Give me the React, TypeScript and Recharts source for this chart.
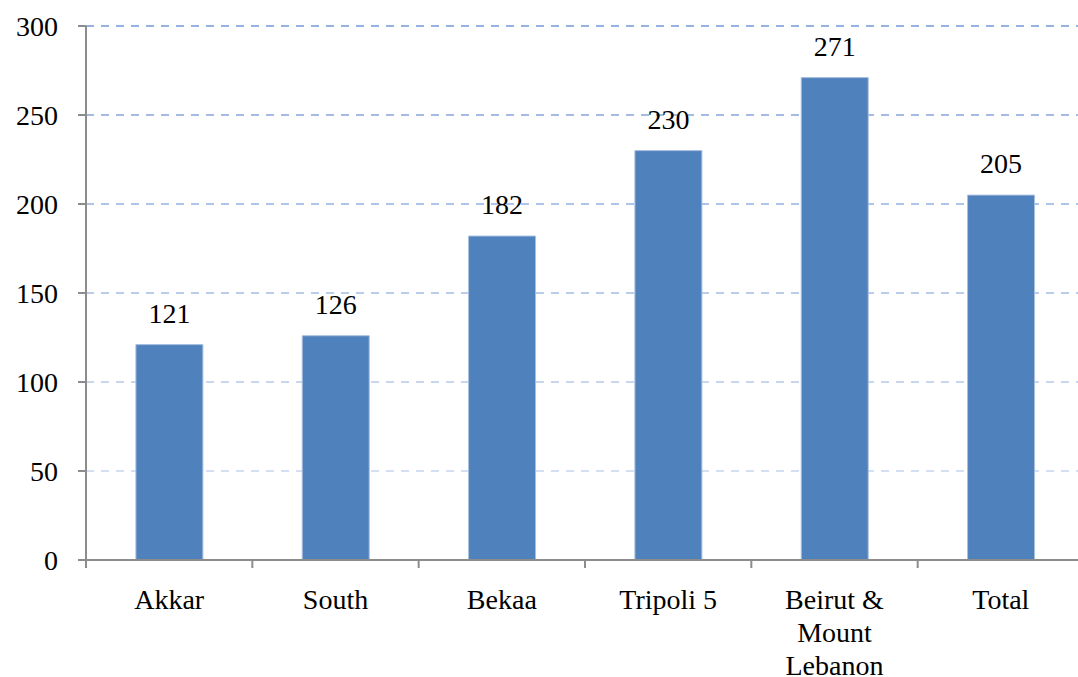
import React from "react";
import { Bar, BarChart, CartesianGrid, LabelList, XAxis, YAxis } from "recharts";

const regions = ["Akkar", "South", "Bekaa", "Tripoli 5", "Beirut & Mount Lebanon", "Total"];
const values = [121, 126, 182, 230, 271, 205];
const yTicks = [0, 50, 100, 150, 200, 250, 300];

const data = regions.map((name, i) => ({ name, value: values[i] }));

const FONT = "'Liberation Serif', serif";
const FS = 28;
const AXIS = "#8c8c8c";

// gridlines fade from blue at the top to very pale near the axis
function gridColor(y: number, top: number, bottom: number) {
  const t = Math.min(1, Math.max(0, (y - top) / (bottom - top)));
  const a = [150, 178, 226];
  const b = [226, 232, 246];
  const c = a.map((v, k) => Math.round(v + (b[k] - v) * t));
  return `rgb(${c[0]},${c[1]},${c[2]})`;
}

function wrapLabel(text: string) {
  if (text === "Beirut & Mount Lebanon") return ["Beirut &", "Mount", "Lebanon"];
  return [text];
}

function CategoryTick(props: any) {
  const { x, y, payload, width, visibleTicksCount, index } = props;
  const band = width / visibleTicksCount;
  const lines = wrapLabel(payload.value);
  const left = x - band / 2;
  return (
    <g>
      <line x1={left} y1={y - 8} x2={left} y2={y} stroke={AXIS} strokeWidth={2} />
      {index === visibleTicksCount - 1 && (
        <line x1={left + band} y1={y - 8} x2={left + band} y2={y} stroke={AXIS} strokeWidth={2} />
      )}
      <text x={x} y={y + 41} textAnchor="middle" fontFamily={FONT} fontSize={FS} fill="#000">
        {lines.map((l, i) => (
          <tspan key={i} x={x} dy={i === 0 ? 0 : 33}>
            {l}
          </tspan>
        ))}
      </text>
    </g>
  );
}

export default function App() {
  return (
    <div style={{ position: "absolute", left: 0, top: 0, width: 1078, height: 677, overflow: "hidden", background: "#fff" }}>
      <BarChart
        width={1084}
        height={677}
        data={data}
        margin={{ top: 26, right: 0, left: 0, bottom: 0 }}
        barCategoryGap="30%"
      >
        <CartesianGrid
          vertical={false}
          horizontal={(p: any) => {
            if (Math.abs(p.y1 - 560) < 2) return <g key={p.key} />;
            return (
              <line
                key={p.key}
                x1={p.x1}
                x2={p.x2}
                y1={p.y1}
                y2={p.y2}
                stroke={gridColor(p.y1, 26, 560)}
                strokeWidth={2}
                strokeDasharray="8 7"
              />
            );
          }}
        />
        <XAxis
          dataKey="name"
          height={117}
          interval={0}
          axisLine={{ stroke: AXIS, strokeWidth: 2 }}
          tickLine={false}
          tick={<CategoryTick />}
        />
        <YAxis
          width={86}
          domain={[0, 300]}
          ticks={yTicks}
          interval={0}
          axisLine={{ stroke: AXIS, strokeWidth: 2 }}
          tickLine={{ stroke: AXIS, strokeWidth: 2 }}
          tickSize={8}
          tickMargin={20}
          tick={{ fill: "#000", fontSize: FS, fontFamily: FONT }}
        />
        <Bar dataKey="value" fill="#4f81bd" stroke="#a9c0e0" strokeWidth={1} isAnimationActive={false}>
          <LabelList dataKey="value" position="top" offset={22} fill="#000" fontSize={FS} fontFamily={FONT} />
        </Bar>
      </BarChart>
    </div>
  );
}
